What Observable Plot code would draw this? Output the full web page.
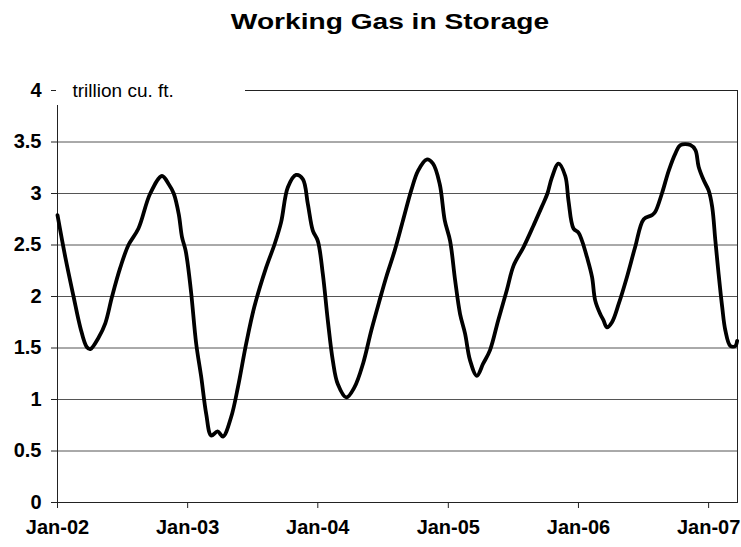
<!DOCTYPE html>
<html>
<head>
<meta charset="utf-8">
<script src="https://cdn.jsdelivr.net/npm/d3@7"></script>
<script src="https://cdn.jsdelivr.net/npm/@observablehq/plot@0.6"></script>
<style>
  body { margin: 0; background: #fff; }
  #wrap { position: relative; width: 741px; height: 547px; font-family: "Liberation Sans", Arial, sans-serif; }
  #title { position: absolute; left: 390px; top: 11px; font-size: 22.5px; line-height: 1; font-weight: bold; white-space: nowrap; color: #000;
           transform: translateX(-50%) scaleX(1.25); }
  #wrap svg { position: absolute; left: 0; top: 0; }
</style>
</head>
<body>
<div id="wrap"><div id="title">Working Gas in Storage</div></div>
<script>
// Weekly-ish readings of working gas in storage (trillion cu. ft.)
const dates = [
  "2002-01-01","2002-01-23","2002-02-15","2002-03-06","2002-03-24","2002-04-03","2002-04-26","2002-05-15",
  "2002-06-03","2002-06-26","2002-07-19","2002-08-16","2002-09-18","2002-10-21","2002-11-09","2002-11-23",
  "2002-12-07","2002-12-16","2002-12-26",
  "2003-01-01","2003-01-11","2003-01-25","2003-02-08","2003-02-22","2003-03-08","2003-03-26","2003-04-10",
  "2003-05-03","2003-05-22","2003-06-14","2003-07-07","2003-08-09","2003-09-02","2003-09-20","2003-10-09",
  "2003-11-01","2003-11-20","2003-12-04","2003-12-18",
  "2004-01-01","2004-01-15","2004-01-29","2004-02-12","2004-02-26","2004-03-21","2004-04-13","2004-05-07",
  "2004-05-30","2004-06-22","2004-07-11","2004-08-04","2004-08-27","2004-09-19","2004-10-08","2004-11-01",
  "2004-11-19","2004-12-08","2004-12-22",
  "2005-01-06","2005-01-20","2005-02-03","2005-02-17","2005-03-03","2005-03-22","2005-04-09","2005-04-28",
  "2005-05-21","2005-06-14","2005-07-03","2005-07-31","2005-08-28","2005-09-20","2005-10-06","2005-10-18",
  "2005-11-06","2005-11-25","2005-12-04","2005-12-18",
  "2006-01-01","2006-01-11","2006-01-25","2006-02-08","2006-02-17","2006-03-03","2006-03-12","2006-03-22",
  "2006-04-05","2006-04-24","2006-05-17","2006-06-09","2006-07-03","2006-07-26","2006-08-04","2006-08-23",
  "2006-09-11","2006-09-30","2006-10-14","2006-11-11","2006-11-25","2006-12-04","2006-12-18",
  "2007-01-01","2007-01-11","2007-01-20","2007-01-29","2007-02-08","2007-02-17","2007-03-03","2007-03-17",
  "2007-03-22"
];
const values = [
  2.79,2.38,2.00,1.70,1.51,1.49,1.60,1.74,
  2.00,2.28,2.50,2.66,3.00,3.17,3.09,3.00,
  2.80,2.58,2.45,
  2.32,2.03,1.54,1.22,0.86,0.65,0.69,0.64,
  0.83,1.12,1.54,1.90,2.28,2.51,2.72,3.06,
  3.18,3.14,2.90,2.64,
  2.54,2.22,1.77,1.38,1.15,1.02,1.12,1.35,
  1.67,1.96,2.19,2.45,2.74,3.03,3.22,3.33,
  3.29,3.09,2.74,
  2.54,2.16,1.83,1.64,1.38,1.23,1.35,1.48,
  1.77,2.06,2.30,2.48,2.69,2.87,3.00,3.15,
  3.29,3.17,2.93,2.66,
  2.62,2.54,2.38,2.19,1.96,1.83,1.77,1.70,
  1.75,1.93,2.19,2.48,2.75,2.79,2.82,3.00,
  3.22,3.39,3.47,3.47,3.42,3.26,3.13,
  3.03,2.87,2.54,2.22,1.90,1.67,1.52,1.52,
  1.57
];
const yTicks = [0, 0.5, 1, 1.5, 2, 2.5, 3, 3.5, 4];
const xTickDates = ["2002-01-01","2003-01-01","2004-01-01","2005-01-01","2006-01-01","2007-01-01"];
const xDomain = ["2002-01-01", "2007-03-23"];
const unitLabel = "trillion cu. ft.";

const data = dates.map((d, i) => ({date: new Date(d), value: values[i]}));
const font = '"Liberation Sans", Arial, sans-serif';

const chart = Plot.plot({
  width: 741,
  height: 547,
  marginLeft: 57,
  marginRight: 4,
  marginTop: 90,
  marginBottom: 45,
  style: {fontFamily: font, fontSize: "20px", fontWeight: "bold", color: "#000", background: "transparent", overflow: "visible"},
  x: {type: "utc", domain: xDomain.map(d => new Date(d)), label: null},
  y: {domain: [0, 4], label: null},
  marks: [
    Plot.gridY(yTicks, {stroke: "#555", strokeOpacity: 1, strokeWidth: 1}),
    Plot.frame({stroke: "#222", strokeWidth: 1}),
    Plot.axisY(yTicks, {tickSize: 6, tickPadding: 10, tickFormat: d => String(d), stroke: "#222", label: null}),
    Plot.axisX(xTickDates.map(d => new Date(d)), {tickSize: 6, tickPadding: 11, tickFormat: d3.utcFormat("%b-%y"), stroke: "#222", label: null}),
    Plot.line(data, {x: "date", y: "value", stroke: "#000", strokeWidth: 3.8, curve: "catmull-rom", strokeLinejoin: "round"}),
    Plot.text([unitLabel], {frameAnchor: "top-left", dx: 15, text: d => d, textAnchor: "start", lineAnchor: "middle",
      fontSize: 19, fontWeight: "normal", fill: "#000"})
  ]
});

// white box behind the unit label, hiding the top gridline/axis as in the original
const svg = d3.select(chart);
const labelNode = svg.selectAll("text").filter(function() { return this.textContent === unitLabel; }).node();
if (labelNode) {
  const g = labelNode.parentNode;
  const rect = document.createElementNS("http://www.w3.org/2000/svg", "rect");
  rect.setAttribute("x", 56);
  rect.setAttribute("y", 76);
  rect.setAttribute("width", 189);
  rect.setAttribute("height", 29);
  rect.setAttribute("fill", "#fff");
  g.parentNode.insertBefore(rect, g);
}
document.getElementById("wrap").appendChild(chart);
</script>
</body>
</html>
